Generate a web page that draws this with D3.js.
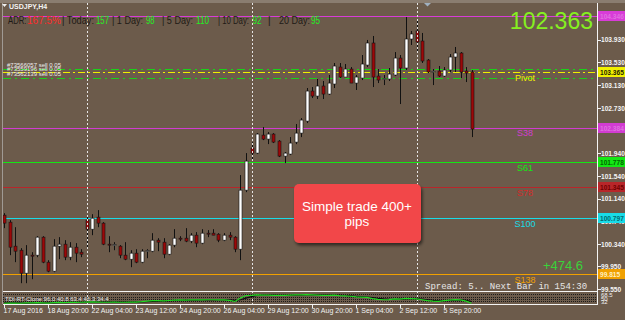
<!DOCTYPE html>
<html>
<head>
<meta charset="utf-8">
<script src="https://cdn.jsdelivr.net/npm/d3@7"></script>
<style>
  body { margin: 0; background: #6c5b4b; }
  svg { display: block; font-family: "Liberation Sans", Arial, sans-serif; }
</style>
</head>
<body>
<div id="chart"></div>
<script>
// USDJPY H4 bars, 17 Aug 2016 12:00 .. 6 Sep 2016 16:00
const opens = [
  100.851, 100.728, 100.307, 100.236, 99.833, 100.149, 100.149, 100.465, 100.026, 99.868,
  100.307, 100.342, 100.114, 100.289, 100.201, 100.763, 100.605, 100.816, 100.711, 100.342,
  100.330, 100.307, 100.149, 100.078, 100.184, 100.026, 100.219, 100.219, 100.412, 100.377,
  100.166, 100.325, 100.447, 100.447, 100.395, 100.500, 100.360, 100.535, 100.535, 100.517,
  100.412, 100.500, 100.465, 100.254, 101.290, 102.029, 101.940, 102.256, 102.186, 102.274,
  102.151, 101.887, 101.923, 102.133, 102.291, 102.502, 103.029, 102.941, 103.117, 102.976,
  103.152, 103.450, 103.275, 103.415, 103.169, 103.257, 103.485, 103.872, 103.292, 103.240,
  103.240, 103.310, 103.608, 103.433, 103.942, 104.083, 103.907, 103.573, 103.363, 103.380,
  103.292, 103.398, 103.626, 103.696, 103.380, 103.363
];
const highs = [
  100.886, 100.763, 100.640, 100.272, 100.325, 100.201, 100.482, 100.482, 100.061, 100.430,
  100.465, 100.412, 100.377, 100.360, 100.254, 100.851, 100.868, 100.939, 100.728, 100.482,
  100.377, 100.325, 100.377, 100.236, 100.254, 100.254, 100.254, 100.535, 100.447, 100.447,
  100.342, 100.605, 100.482, 100.623, 100.535, 100.553, 100.605, 100.588, 100.605, 100.535,
  100.535, 100.553, 100.482, 101.554, 101.940, 102.133, 102.291, 102.397, 102.309, 102.291,
  102.168, 101.958, 102.221, 102.450, 102.555, 103.082, 103.099, 103.240, 103.205, 103.310,
  103.521, 103.521, 103.503, 103.450, 103.310, 103.661, 103.925, 103.995, 103.415, 103.310,
  103.433, 103.713, 103.661, 104.328, 104.083, 104.276, 104.048, 103.591, 103.415, 103.468,
  103.450, 103.678, 103.802, 103.713, 103.450, 103.398
];
const lows = [
  100.623, 100.149, 100.026, 99.657, 99.657, 99.727, 100.114, 100.008, 99.850, 99.850,
  100.078, 100.061, 100.061, 100.026, 100.114, 100.272, 100.500, 100.640, 100.325, 100.201,
  100.236, 100.096, 100.061, 99.938, 100.008, 100.008, 100.096, 100.201, 100.219, 100.096,
  100.149, 100.289, 100.395, 100.377, 100.360, 100.289, 100.342, 100.465, 100.500, 100.377,
  100.395, 100.412, 100.201, 100.061, 101.255, 101.835, 101.923, 102.168, 102.098, 102.116,
  101.870, 101.765, 101.905, 102.098, 102.221, 102.467, 102.906, 102.889, 102.889, 102.959,
  103.082, 103.257, 103.275, 103.169, 103.047, 103.222, 103.450, 103.099, 103.169, 103.134,
  103.205, 103.292, 102.801, 103.398, 103.837, 103.696, 103.521, 103.345, 103.134, 103.275,
  103.275, 103.363, 103.363, 103.257, 103.187, 102.221
];
const closes = [
  100.711, 100.289, 100.219, 99.833, 100.149, 100.131, 100.465, 100.026, 99.868, 100.307,
  100.342, 100.114, 100.289, 100.184, 100.166, 100.605, 100.798, 100.711, 100.342, 100.330,
  100.335, 100.149, 100.078, 100.184, 100.026, 100.219, 100.230, 100.412, 100.377, 100.166,
  100.325, 100.447, 100.440, 100.395, 100.500, 100.360, 100.535, 100.525, 100.500, 100.412,
  100.500, 100.465, 100.254, 101.290, 101.800, 101.940, 102.274, 102.186, 102.274, 102.133,
  101.887, 101.940, 102.116, 102.291, 102.520, 103.029, 102.941, 103.117, 102.976, 103.169,
  103.468, 103.275, 103.415, 103.169, 103.275, 103.503, 103.872, 103.275, 103.222, 103.250,
  103.327, 103.608, 103.433, 103.942, 104.030, 103.889, 103.556, 103.363, 103.375, 103.292,
  103.398, 103.626, 103.696, 103.363, 103.345, 102.362
];

// TDI sub-window (price line and signal line)
const tdiPrice = [
  22, 23, 23, 22, 24, 24, 25, 24, 23, 25, 26, 25, 27, 26, 27,
  28, 29, 28, 27, 27, 28, 27, 27, 28, 28, 30,
  33, 35, 35, 34, 36, 38, 39, 38, 39, 39, 39, 40, 40, 39, 39, 37, 31,
  49, 62, 63, 65, 64, 64, 63, 63, 63, 64, 65, 65, 66, 65,
  64, 63, 63, 64, 61, 60, 58, 55, 54, 52,
  46, 42, 40, 41, 44, 43, 47, 46, 44,
  40, 35, 33, 32, 35, 38, 41, 39, 33, 22
];
const tdiSignal = [
  24, 24, 24, 23, 23, 24, 24, 24, 24, 24, 25, 25, 26, 26, 26,
  27, 27, 28, 28, 28, 28, 28, 28, 28, 28, 29,
  30, 32, 33, 34, 35, 36, 37, 37, 38, 38, 39, 39, 39, 39, 39, 39, 37,
  40, 48, 56, 62, 64, 64, 64, 63, 63, 63, 64, 64, 65, 65,
  65, 64, 64, 63, 63, 62, 60, 58, 56, 54,
  51, 47, 44, 42, 42, 43, 44, 45, 45,
  43, 40, 37, 35, 35, 36, 38, 39, 37, 31
];
const tdiLevels = [32, 44, 56, 68];
const tdiLabels = ['68.5', '50', '32'];

const timeTickIdx = [0, 8, 16, 24, 32, 40, 48, 56, 64, 72, 80];
const timeTickLabels = ['17 Aug 2016', '18 Aug 20:00', '22 Aug 04:00', '23 Aug 12:00', '24 Aug 20:00',
  '26 Aug 04:00', '29 Aug 12:00', '30 Aug 20:00', '1 Sep 04:00', '2 Sep 12:00', '5 Sep 20:00'];
const weekStartIdx = [15, 45, 75];

const priceTicks = [103.930, 103.530, 103.130, 102.730, 102.330, 101.940, 101.540, 101.140,
  100.740, 100.340, 99.950, 99.550];

// pivot levels drawn as horizontal lines
const levelNames = ['', 'Pivot', 'S38', 'S61', 'S78', 'S100', 'S138'];
const levelValues = [104.346, 103.365, 102.384, 101.778, 101.345, 100.797, 99.815];
const levelColors = ['#d83cd8', '#f0f000', '#d23cd2', '#14e614', '#b8262a', '#18dce8', '#f0a000'];
const levelTextColors = ['#e070e0', '#202000', '#e070e0', '#006600', '#700000', '#006a70', '#fff0c0'];

const orderIds = ['#73566057', '#73559196', '#73562139'];
const orderLots = ['0.05', '0.05', '0.05'];
const orderLinePrices = [103.415, 103.257];

const adrParts = [
  ['ADR:', 'd'], ['167.5%', 'r'], ['| Today:', 'd'], ['157', 'g'], ['| 1 Day:', 'd'], ['98', 'g'],
  ['| 5 Day:', 'd'], ['110', 'g'], ['| 10 Day:', 'd'], ['92', 'g'], ['|', 'd'], ['20 Day:', 'd'], ['95', 'g']
];
const adrX = [8, 27, 62, 96, 112, 146, 162, 196, 218, 252.5, 268, 279, 311];
const adrW = [18.5, 34, 32, 13, 31, 8.5, 31, 13, 31, 9, 0, 31, 9];

const lastPrice = '102.363';
const profitText = '+474.6';
const tdiTitle = 'TDI-RT-Clone 96.0 40.8 63.4 46.3 34.4';

const width = 625;
const height = 320;
const plot = { left: 3, right: 597, top: 3, bottom: 291 };
const sub = { top: 292, bottom: 304 };

const x = d3.scaleLinear().domain([0, opens.length - 1]).range([4, 471.5]);
const y = d3.scaleLinear().domain([99.52, 104.574]).range([plot.bottom, plot.top]);
const yTdi = d3.scaleLinear().domain([18, 80]).range([sub.bottom, sub.top]);
const px = v => Math.round(v) + 0.5;

const svg = d3.select('#chart').append('svg')
  .attr('width', width)
  .attr('height', height);

svg.append('rect').attr('width', width).attr('height', height).attr('fill', '#6c5b4b');
svg.append('rect').attr('width', width).attr('height', 3).attr('fill', '#8a7d70');

const defs = svg.append('defs');
defs.append('clipPath').attr('id', 'clipMain')
  .append('rect').attr('x', plot.left).attr('y', plot.top)
  .attr('width', plot.right - plot.left).attr('height', plot.bottom - plot.top);
const shadow = defs.append('filter').attr('id', 'shadow')
  .attr('x', '-10%').attr('y', '-10%').attr('width', '130%').attr('height', '140%');
shadow.append('feDropShadow').attr('dx', 1.5).attr('dy', 2.5).attr('stdDeviation', 1.5)
  .attr('flood-color', '#000').attr('flood-opacity', 0.55);

// right price axis
const yAxis = d3.axisRight(y)
  .tickValues(priceTicks)
  .tickFormat(d3.format('.3f'))
  .tickSize(3)
  .tickPadding(0.5);
const yAxisG = svg.append('g')
  .attr('transform', `translate(${plot.right + 0.5},0)`)
  .call(yAxis);
yAxisG.select('.domain').remove();
yAxisG.selectAll('line').attr('stroke', '#f0f0f0').attr('shape-rendering', 'crispEdges');
yAxisG.selectAll('text').attr('fill', '#f4f4f4').attr('font-size', 6.6)
  .attr('font-family', '"Liberation Sans", Arial, sans-serif').attr('font-weight', 'bold');

// bottom time axis
const xAxis = d3.axisBottom(x)
  .tickValues(timeTickIdx)
  .tickFormat((d, i) => timeTickLabels[i])
  .tickSize(3);
const xAxisG = svg.append('g')
  .attr('transform', `translate(0,${sub.bottom + 0.5})`)
  .call(xAxis);
xAxisG.select('.domain').remove();
xAxisG.selectAll('line').attr('stroke', '#f0f0f0').attr('shape-rendering', 'crispEdges');
xAxisG.selectAll('text')
  .attr('text-anchor', 'start').attr('x', -1).attr('y', 4).attr('dy', '0.7em')
  .attr('fill', '#f2f2f2').attr('font-size', 7)
  .attr('font-family', '"Liberation Sans", Arial, sans-serif');

const main = svg.append('g').attr('clip-path', 'url(#clipMain)');

// week separators
svg.append('g').selectAll('line').data(weekStartIdx).enter().append('line')
  .attr('x1', d => px(x(d))).attr('x2', d => px(x(d)))
  .attr('y1', plot.top).attr('y2', sub.bottom)
  .attr('stroke', '#e6e6e6').attr('stroke-dasharray', '2,2');

// level lines
levelValues.forEach((v, i) => {
  const line = main.append('line')
    .attr('x1', plot.left).attr('x2', plot.right)
    .attr('y1', px(y(v))).attr('y2', px(y(v)))
    .attr('stroke', levelColors[i]).attr('stroke-width', 1);
  if (levelNames[i] === 'Pivot') line.attr('stroke-dasharray', '7,3,2,3');
});
orderLinePrices.forEach(v => {
  main.append('line')
    .attr('x1', plot.left).attr('x2', plot.right)
    .attr('y1', px(y(v))).attr('y2', px(y(v)))
    .attr('stroke', '#19d219').attr('stroke-dasharray', '8,4,2,4');
});

// candles
function drawCandles(g) {
  const bw = 3;
  const idx = d3.range(opens.length);
  const c = g.selectAll('.candle').data(idx).enter().append('g').attr('class', 'candle');
  c.append('line')
    .attr('x1', i => px(x(i))).attr('x2', i => px(x(i)))
    .attr('y1', i => y(highs[i])).attr('y2', i => y(lows[i]))
    .attr('stroke', '#111');
  c.append('rect')
    .attr('x', i => px(x(i)) - bw / 2)
    .attr('y', i => y(Math.max(opens[i], closes[i])))
    .attr('width', bw)
    .attr('height', i => Math.max(1, Math.abs(y(opens[i]) - y(closes[i]))))
    .attr('fill', i => (closes[i] >= opens[i] ? '#ffffff' : '#9c0808'))
    .attr('stroke', '#151515').attr('stroke-width', 0.6);
}
drawCandles(main);

// level labels
levelNames.forEach((name, i) => {
  if (!name) return;
  svg.append('text')
    .attr('x', 525).attr('y', y(levelValues[i]) + 8.7)
    .attr('text-anchor', 'middle').attr('font-size', 9)
    .attr('fill', levelColors[i] === '#b8262a' ? '#d42a2a' : levelColors[i])
    .text(name);
});

// order labels
orderIds.forEach((id, i) => {
  svg.append('text')
    .attr('x', 7).attr('y', 66.5 + i * 4.5)
    .attr('font-size', 6).attr('fill', '#ececec')
    .text(`${id} sell ${orderLots[i]}`);
});

// price boxes on the right axis
levelValues.forEach((v, i) => {
  const yy = Math.round(y(v));
  svg.append('rect')
    .attr('x', plot.right + 1).attr('y', yy - 5)
    .attr('width', width - plot.right - 1).attr('height', 10)
    .attr('fill', levelColors[i]);
  svg.append('text')
    .attr('x', plot.right + 3).attr('y', yy + 2.5)
    .attr('font-size', 6.6).attr('font-weight', 'bold')
    .attr('fill', levelTextColors[i])
    .text(d3.format('.3f')(v));
});

// TDI sub-window
const tdi = svg.append('g');
tdi.selectAll('.lvl').data(tdiLevels).enter().append('line')
  .attr('x1', plot.left).attr('x2', plot.right)
  .attr('y1', d => px(yTdi(d))).attr('y2', d => px(yTdi(d)))
  .attr('stroke', '#1a1a1a').attr('stroke-dasharray', '1,1');
const tdiLine = arr => d3.line().x((d, i) => x(i)).y(d => yTdi(d))(arr);
tdi.append('path').attr('d', tdiLine(tdiSignal))
  .attr('fill', 'none').attr('stroke', '#0c0c0c').attr('stroke-width', 1.2);
tdi.append('path').attr('d', tdiLine(tdiPrice))
  .attr('fill', 'none').attr('stroke', '#22d822').attr('stroke-width', 1.2);
tdi.append('text').attr('x', 5).attr('y', 301)
  .attr('font-size', 6).attr('fill', '#e6e6e6').text(tdiTitle);
tdiLabels.forEach((t, i) => {
  tdi.append('text').attr('x', plot.right + 4).attr('y', 297 + i * 3.5)
    .attr('font-size', 6).attr('fill', '#f0f0f0').text(t);
});

// frame
const frame = svg.append('g').attr('stroke', '#f4f4f4').attr('shape-rendering', 'crispEdges');
frame.append('line').attr('x1', plot.right + 0.5).attr('x2', plot.right + 0.5)
  .attr('y1', plot.top).attr('y2', sub.bottom + 1);
frame.append('line').attr('x1', plot.left).attr('x2', plot.right)
  .attr('y1', plot.bottom + 0.5).attr('y2', plot.bottom + 0.5);
frame.append('line').attr('x1', plot.left).attr('x2', plot.right)
  .attr('y1', sub.bottom + 0.5).attr('y2', sub.bottom + 0.5);
svg.append('line').attr('x1', 2.5).attr('x2', 2.5).attr('y1', plot.top).attr('y2', sub.bottom)
  .attr('stroke', '#a09a94');

// header
svg.append('path').attr('d', 'M2,4 L7,4 L4.5,7 Z').attr('fill', '#f0f0f0');
svg.append('text').attr('x', 9).attr('y', 9).attr('font-size', 7).attr('font-weight', 'bold')
  .attr('fill', '#f4f4f4').text('USDJPY,H4');
const adrColor = { d: '#1e1a16', r: '#ff2a2a', g: '#22f022' };
adrParts.forEach((p, i) => {
  const t = svg.append('text').attr('x', adrX[i]).attr('y', 23.5)
    .attr('font-size', 10).attr('fill', adrColor[p[1]]).text(p[0]);
  if (adrW[i] > 0) t.attr('textLength', adrW[i]).attr('lengthAdjust', 'spacingAndGlyphs');
});
svg.append('path').attr('d', 'M424,3 L431,3 L427.5,6.5 Z').attr('fill', '#9fb0c0');

svg.append('text').attr('x', 593).attr('y', 28.5).attr('text-anchor', 'end')
  .attr('font-size', 23).attr('fill', '#86f020').text(lastPrice);

svg.append('text').attr('x', 583).attr('y', 270).attr('text-anchor', 'end')
  .attr('font-size', 13).attr('fill', '#3ad23a').text(profitText);

svg.append('text').attr('x', 425).attr('y', 289)
  .attr('font-family', '"Liberation Mono", "Courier New", monospace')
  .attr('font-size', 9).attr('fill', '#e6e6e6')
  .text('Spread: 5.. Next Bar in 154:30');

// callout
const note = svg.append('g');
note.append('rect').attr('x', 294).attr('y', 184).attr('width', 127).attr('height', 59)
  .attr('rx', 5).attr('fill', '#f24748').attr('filter', 'url(#shadow)');
note.append('text').attr('x', 357).attr('y', 210.5).attr('text-anchor', 'middle')
  .attr('font-size', 13.5).attr('fill', '#ffffff').text('Simple trade 400+');
note.append('text').attr('x', 357).attr('y', 226).attr('text-anchor', 'middle')
  .attr('font-size', 13.5).attr('fill', '#ffffff').text('pips');
</script>
</body>
</html>
